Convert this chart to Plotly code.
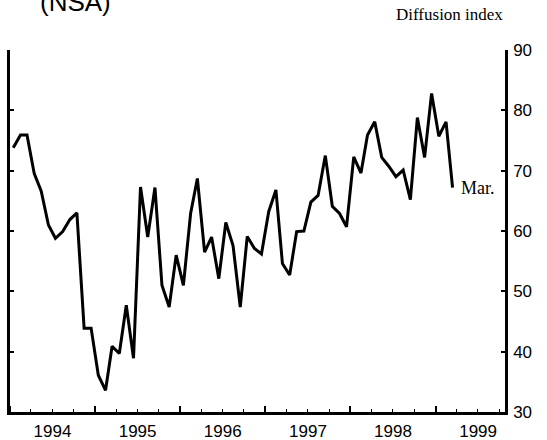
import pandas as pd
import plotly.graph_objects as go

# Monthly diffusion index (NSA), Jan 1994 - Mar 1999
values = [
    73.8, 75.9, 75.9, 69.5, 66.6, 61.0, 58.8, 59.9, 61.9, 63.0, 43.9, 43.9,   # 1994
    36.1, 33.6, 40.9, 39.7, 47.7, 38.9, 67.3, 59.0, 67.2, 51.0, 47.4, 56.0,   # 1995
    51.0, 62.9, 68.7, 56.5, 59.0, 52.1, 61.4, 57.6, 47.4, 59.1, 57.1, 56.2,   # 1996
    63.2, 66.8, 54.6, 52.7, 59.9, 60.0, 64.8, 65.9, 72.5, 64.1, 62.9, 60.7,   # 1997
    72.3, 69.6, 75.9, 78.1, 72.2, 70.7, 69.0, 70.1, 65.2, 78.8, 72.2, 82.8,   # 1998
    75.7, 78.1, 67.2,                                                         # 1999
]
start_month = "1994-01-01"
months = pd.date_range(start_month, periods=len(values), freq="MS") + pd.Timedelta(days=14)

y_ticks = [30, 40, 50, 60, 70, 80, 90]
last_label = "Mar."
title_text = "(NSA)"
units_text = "Diffusion index"

sans = "Liberation Sans, Arial, sans-serif"
serif = "Liberation Serif, Times New Roman, serif"

fig = go.Figure()
fig.add_trace(go.Scatter(
    x=months, y=values, mode="lines",
    line=dict(color="black", width=3),
    hoverinfo="skip", showlegend=False,
))

fig.update_layout(
    width=547, height=440,
    margin=dict(l=10, r=42, t=50, b=28),
    paper_bgcolor="white", plot_bgcolor="white",
    showlegend=False,
    xaxis=dict(
        type="date", automargin=False,
        range=["1994-01-01", "1999-10-26"],
        tick0="1994-01-01", dtick="M12", tickformat="%Y",
        ticklabelmode="period",
        ticks="inside", ticklen=6, tickwidth=1.5, tickcolor="black",
        minor=dict(dtick="M3", ticks="inside", ticklen=3, tickwidth=1.2, tickcolor="black"),
        showline=True, linecolor="black", linewidth=2.5,
        showgrid=False, zeroline=False,
        tickfont=dict(family=sans, size=17, color="black"),
        ticklabelstandoff=2,
    ),
    yaxis=dict(
        range=[30, 90], tickvals=y_ticks, automargin=False,
        side="right",
        ticks="inside", ticklen=4, tickwidth=1.5, tickcolor="black",
        showline=True, linecolor="black", linewidth=2.5, mirror="ticks",
        showgrid=False, zeroline=False,
        tickfont=dict(family=sans, size=17, color="black"),
        ticklabelstandoff=2,
    ),
)

fig.add_annotation(
    x=months[-1], y=values[-1], text=last_label, showarrow=False,
    xanchor="left", yanchor="middle", xshift=6,
    font=dict(family=serif, size=18, color="black"),
)
fig.add_annotation(
    xref="paper", yref="paper", x=0.056, y=1.086, text=title_text,
    showarrow=False, xanchor="left", yanchor="bottom",
    font=dict(family=sans, size=26, color="black"),
)
fig.add_annotation(
    xref="paper", yref="paper", x=1.0, y=1.097, text=units_text,
    showarrow=False, xanchor="right", yanchor="middle",
    font=dict(family=serif, size=17, color="black"),
)

fig.write_html(
    "out.html",
    config={"displayModeBar": False},
    post_script="document.body.style.margin='0px';",
)
